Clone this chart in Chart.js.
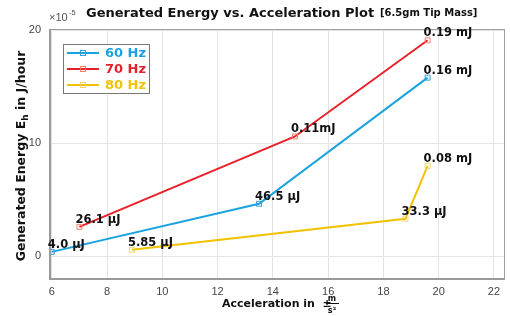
<!DOCTYPE html>
<html>
<head>
<meta charset="utf-8">
<script src="https://cdn.jsdelivr.net/npm/chart.js@4"></script>
<style>
  html, body { margin: 0; padding: 0; background: #fff; }
  #wrap { width: 510px; height: 316px; position: relative; }
</style>
</head>
<body>
<div id="wrap"><canvas id="energyChart"></canvas></div>
<script>
// Data (energy in units of 1e-5 J)
const seriesNames = ["60 Hz", "70 Hz", "80 Hz"];
const accel60 = [6, 13.5, 19.6];
const energy60 = [0.4, 4.65, 15.8];
const labels60 = ["4.0 μJ", "46.5 μJ", "0.16 mJ"];
const accel70 = [7, 14.8, 19.6];
const energy70 = [2.61, 10.6, 19.1];
const labels70 = ["26.1 μJ", "0.11mJ", "0.19 mJ"];
const accel80 = [8.9, 18.8, 19.6];
const energy80 = [0.585, 3.33, 8.0];
const labels80 = ["5.85 μJ", "33.3 μJ", "0.08 mJ"];
const xTicks = [6, 8, 10, 12, 14, 16, 18, 20, 22];
const yTicks = [0, 10, 20];

const lineColors = ["#1ba3e0", "#e8202a", "#f2c200"];
const markerColors = ["#3a9ad6", "#f0826a", "#f5d36a"];

const toPoints = (xs, ys) => xs.map((x, i) => ({ x: x, y: ys[i] }));
const pointLabels = [labels60, labels70, labels80];

const mkSet = (i, xs, ys) => ({
  label: seriesNames[i],
  data: toPoints(xs, ys),
  showLine: true,
  borderColor: lineColors[i],
  borderWidth: 2,
  pointStyle: "rect",
  pointRadius: 3.5,
  pointBackgroundColor: "rgba(0,0,0,0)",
  pointBorderColor: markerColors[i],
  pointBorderWidth: 1
});

const FONT = "'DejaVu Sans', Verdana, sans-serif";
const TICKFONT = "'Liberation Sans', Arial, sans-serif";

// draws frame, title, axis titles, legend and point labels
const decorations = {
  id: "decorations",
  afterDatasetsDraw(chart) {
    const { ctx, chartArea: a, scales } = chart;
    ctx.save();

    // box frame
    ctx.strokeStyle = "#a0a0a0";
    ctx.lineWidth = 1;
    ctx.strokeRect(a.left + 0.5, a.top + 0.5, a.right - a.left - 1, a.bottom - a.top - 1);
    ctx.lineWidth = 2;
    ctx.strokeStyle = "#9a9a9a";
    ctx.beginPath();
    ctx.moveTo(a.left + 1, a.top);
    ctx.lineTo(a.left + 1, a.bottom);
    ctx.lineTo(a.right, a.bottom);
    ctx.stroke();

    // point labels
    ctx.fillStyle = "#111";
    ctx.font = "bold 11.5px " + FONT;
    ctx.textAlign = "left";
    ctx.textBaseline = "alphabetic";
    chart.data.datasets.forEach((ds, i) => {
      ds.data.forEach((p, j) => {
        const px = scales.x.getPixelForValue(p.x);
        const py = scales.y.getPixelForValue(p.y);
        ctx.fillText(pointLabels[i][j], px - 4, py - 4);
      });
    });

    // title
    ctx.textAlign = "left";
    ctx.font = "bold 13px " + FONT;
    ctx.fillText("Generated Energy vs. Acceleration Plot", 86, 17);
    ctx.font = "bold 10px " + FONT;
    ctx.fillText("[6.5gm Tip Mass]", 380, 16);

    // exponent
    ctx.fillStyle = "#555";
    ctx.font = "11px " + TICKFONT;
    ctx.fillText("×10", 49, 21);
    ctx.font = "7.5px " + TICKFONT;
    ctx.fillText("-5", 69, 15);

    // y axis title
    ctx.fillStyle = "#111";
    ctx.save();
    ctx.translate(25, 156);
    ctx.rotate(-Math.PI / 2);
    ctx.textAlign = "left";
    const p1 = "Generated Energy E";
    const p2 = " in J/hour";
    ctx.font = "bold 12.5px " + FONT;
    const w1 = ctx.measureText(p1).width;
    ctx.font = "bold 9px " + FONT;
    const wh = ctx.measureText("h").width;
    ctx.font = "bold 12.5px " + FONT;
    const w2 = ctx.measureText(p2).width;
    let sx = -(w1 + wh + w2) / 2;
    ctx.fillText(p1, sx, 0);
    ctx.font = "bold 9px " + FONT;
    ctx.fillText("h", sx + w1, 3);
    ctx.font = "bold 12.5px " + FONT;
    ctx.fillText(p2, sx + w1 + wh, 0);
    ctx.restore();

    // x axis title
    ctx.font = "bold 11px " + FONT;
    ctx.textAlign = "left";
    ctx.fillText("Acceleration in  ±", 222, 307);
    ctx.font = "bold 8px " + FONT;
    ctx.textAlign = "center";
    ctx.fillText("m", 332, 301);
    ctx.fillText("s²", 332, 313);
    ctx.lineWidth = 1;
    ctx.strokeStyle = "#111";
    ctx.beginPath();
    ctx.moveTo(326, 303.5);
    ctx.lineTo(339, 303.5);
    ctx.stroke();

    // legend
    const lx = 63, ly = 44, lw = 86, lh = 49;
    ctx.fillStyle = "#fff";
    ctx.fillRect(lx, ly, lw, lh);
    ctx.strokeStyle = "#777";
    ctx.lineWidth = 1;
    ctx.strokeRect(lx + 0.5, ly + 0.5, lw, lh);
    chart.data.datasets.forEach((ds, i) => {
      const y = ly + 9 + i * 16;
      ctx.strokeStyle = lineColors[i];
      ctx.lineWidth = 2;
      ctx.beginPath();
      ctx.moveTo(lx + 4, y);
      ctx.lineTo(lx + 36, y);
      ctx.stroke();
      ctx.strokeStyle = markerColors[i];
      ctx.lineWidth = 1;
      ctx.strokeRect(lx + 17.5, y - 2.5, 5, 5);
      ctx.fillStyle = lineColors[i];
      ctx.font = "bold 13px " + FONT;
      ctx.textAlign = "left";
      ctx.textBaseline = "middle";
      ctx.fillText(ds.label, lx + 42, y + 1);
    });
    ctx.restore();
  }
};

new Chart(document.getElementById("energyChart"), {
  type: "scatter",
  data: {
    datasets: [
      mkSet(0, accel60, energy60),
      mkSet(1, accel70, energy70),
      mkSet(2, accel80, energy80)
    ]
  },
  options: {
    responsive: true,
    maintainAspectRatio: false,
    animation: false,
    devicePixelRatio: 1,
    layout: { padding: { left: 0, right: 5, top: 29, bottom: 0 } },
    plugins: { legend: { display: false }, tooltip: { enabled: false } },
    scales: {
      x: {
        type: "linear",
        min: 5.9,
        max: 22.4,
        afterBuildTicks: (s) => { s.ticks = xTicks.map(v => ({ value: v })); },
        afterFit: (s) => { s.height = 37; },
        grid: { color: "#e3e3e3", drawTicks: false },
        border: { display: false },
        ticks: { color: "#444", font: { family: TICKFONT, size: 11 }, padding: 6 }
      },
      y: {
        type: "linear",
        min: -2,
        max: 20.1,
        afterBuildTicks: (s) => { s.ticks = yTicks.map(v => ({ value: v })); },
        afterFit: (s) => { s.width = 49; },
        grid: { color: "#e3e3e3", drawTicks: false },
        border: { display: false },
        ticks: { color: "#444", font: { family: TICKFONT, size: 11 }, padding: 8 }
      }
    }
  },
  plugins: [decorations]
});
</script>
</body>
</html>
